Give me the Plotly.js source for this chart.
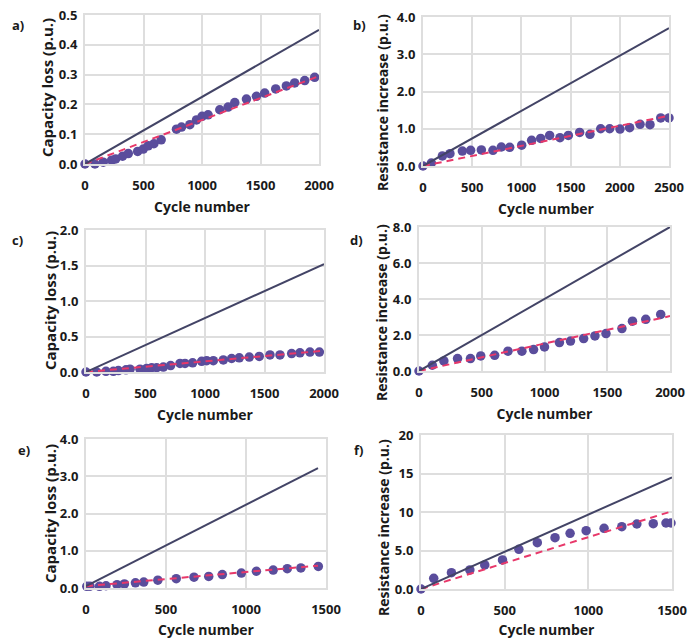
<!DOCTYPE html>
<html>
<head>
<meta charset="utf-8">
<script src="https://cdn.plot.ly/plotly-3.0.1.min.js"></script>
<style>
  html, body { margin: 0; padding: 0; background: #fff; }
  #chart { width: 688px; height: 639px; }
</style>
</head>
<body>
<div id="chart"></div>
<script>
// Measured ageing points per cell (cycle number, value in p.u.)
const aCycles = [0, 85, 156, 228, 262, 321, 370, 450, 498, 540, 589, 651, 782, 825, 896, 953, 1001, 1052, 1152, 1223, 1280, 1380, 1465, 1536, 1630, 1721, 1792, 1878, 1963];
const aValues = [0, 0.0, 0.006, 0.013, 0.017, 0.026, 0.035, 0.042, 0.05, 0.061, 0.068, 0.081, 0.117, 0.124, 0.132, 0.148, 0.16, 0.165, 0.182, 0.191, 0.206, 0.218, 0.227, 0.238, 0.252, 0.262, 0.272, 0.28, 0.291];

const bCycles = [0, 85, 197, 274, 400, 484, 593, 711, 796, 881, 1003, 1104, 1196, 1287, 1392, 1477, 1592, 1697, 1806, 1897, 2002, 2100, 2206, 2307, 2416, 2500];
const bValues = [0, 0.08, 0.27, 0.33, 0.40, 0.42, 0.43, 0.42, 0.51, 0.50, 0.56, 0.69, 0.74, 0.82, 0.76, 0.82, 0.90, 0.85, 1.0, 1.0, 0.99, 1.03, 1.12, 1.11, 1.29, 1.29];

const cCycles = [0, 90, 168, 230, 272, 336, 370, 454, 510, 552, 594, 650, 711, 790, 832, 896, 972, 1014, 1070, 1154, 1224, 1288, 1372, 1456, 1546, 1630, 1728, 1798, 1882, 1961];
const cValues = [0, 0, 0.01, 0.01, 0.02, 0.03, 0.04, 0.04, 0.05, 0.06, 0.06, 0.07, 0.09, 0.12, 0.12, 0.13, 0.15, 0.16, 0.16, 0.17, 0.19, 0.2, 0.21, 0.22, 0.24, 0.24, 0.26, 0.27, 0.28, 0.28];

const dCycles = [0, 106, 198, 307, 410, 492, 603, 709, 820, 913, 1000, 1119, 1207, 1312, 1402, 1490, 1617, 1701, 1807, 1926];
const dValues = [0, 0.32, 0.56, 0.69, 0.69, 0.84, 0.87, 1.1, 1.1, 1.19, 1.34, 1.58, 1.66, 1.8, 1.95, 2.08, 2.36, 2.77, 2.87, 3.14];

const eCycles = [5, 25, 84, 125, 194, 240, 309, 361, 449, 564, 675, 767, 852, 971, 1065, 1170, 1258, 1343, 1452];
const eValues = [0.045, 0.05, 0.045, 0.06, 0.09, 0.11, 0.14, 0.16, 0.21, 0.25, 0.29, 0.31, 0.36, 0.40, 0.45, 0.48, 0.52, 0.54, 0.58];

const fCycles = [0, 76, 182, 292, 381, 487, 585, 695, 801, 891, 987, 1094, 1200, 1290, 1388, 1464, 1494];
const fValues = [0, 1.39, 2.12, 2.47, 3.12, 3.77, 5.15, 6.02, 6.67, 7.23, 7.58, 7.88, 8.1, 8.44, 8.49, 8.57, 8.57];

// Linear model lines: [start cycle, end cycle], [start value, end value]
const aSolidX = [0, 2000], aSolidY = [0, 0.45], aDashX = [0, 2000], aDashY = [0, 0.295];
const bSolidX = [0, 2500], bSolidY = [0, 3.7],  bDashX = [0, 2500], bDashY = [0, 1.35];
const cSolidX = [0, 2000], cSolidY = [0, 1.52], cDashX = [0, 2000], cDashY = [0, 0.30];
const dSolidX = [0, 2000], dSolidY = [0, 8.0],  dDashX = [0, 2000], dDashY = [0, 3.05];
const eSolidX = [0, 1450], eSolidY = [0.05, 3.22], eDashX = [0, 1450], eDashY = [0.05, 0.6];
const fSolidX = [0, 1500], fSolidY = [0, 14.5], fDashX = [0, 1500], fDashY = [0, 10.1];

// Axis ticks
const xTicks2000 = [0, 500, 1000, 1500, 2000];
const xTicks2500 = [0, 500, 1000, 1500, 2000, 2500];
const xTicks1500 = [0, 500, 1000, 1500];
const aYTicks = [0, 0.1, 0.2, 0.3, 0.4, 0.5], aYText = ["0.0", "0.1", "0.2", "0.3", "0.4", "0.5"];
const bYTicks = [0, 1, 2, 3, 4], bYText = ["0.0", "1.0", "2.0", "3.0", "4.0"];
const cYTicks = [0, 0.5, 1, 1.5, 2], cYText = ["0.0", "0.5", "1.0", "1.5", "2.0"];
const dYTicks = [0, 2, 4, 6, 8], dYText = ["0.0", "2.0", "4.0", "6.0", "8.0"];
const eYTicks = [0, 1, 2, 3, 4], eYText = ["0.0", "1.0", "2.0", "3.0", "4.0"];
const fYTicks = [0, 5, 10, 15, 20], fYText = ["0.0", "5.0", "10", "15", "20"];

const panelLabels = ["a)", "b)", "c)", "d)", "e)", "f)"];
const capTitle = "Capacity loss (p.u.)";
const resTitle = "Resistance increase (p.u.)";
const xTitle = "Cycle number";

const W = 688, H = 639;
const DOT = "#5a4d9c", DASH = "#e8386a", SOLID = "#434466", GRID = "#dedede", TXT = "#1a1a1a";
const FONT = "Open Sans, Noto Sans, sans-serif";

// Plot boxes in pixels: [left, right, top, bottom]; y-title centre [x, y]; panel letter centre [x, y]
const panels = [
  {box: [85, 319, 15, 164],    xr: [0, 2000], xt: xTicks2000, yr: [0, 0.5], yt: aYTicks, ytx: aYText, yTitle: capTitle, yTitleSize: 15, yTitlePos: [47, 88],
   cx: aCycles, cy: aValues, sx: aSolidX, sy: aSolidY, dx: aDashX, dy: aDashY, lab: [18, 25]},
  {box: [423, 669, 17, 166],   xr: [0, 2500], xt: xTicks2500, yr: [0, 4], yt: bYTicks, ytx: bYText, yTitle: resTitle, yTitleSize: 14, yTitlePos: [382, 103],
   cx: bCycles, cy: bValues, sx: bSolidX, sy: bSolidY, dx: bDashX, dy: bDashY, lab: [359, 25]},
  {box: [86, 324, 230, 372],   xr: [0, 2000], xt: xTicks2000, yr: [0, 2], yt: cYTicks, ytx: cYText, yTitle: capTitle, yTitleSize: 15, yTitlePos: [50, 301],
   cx: cCycles, cy: cValues, sx: cSolidX, sy: cSolidY, dx: cDashX, dy: cDashY, lab: [17, 240]},
  {box: [419, 670, 227, 371],  xr: [0, 2000], xt: xTicks2000, yr: [0, 8], yt: dYTicks, ytx: dYText, yTitle: resTitle, yTitleSize: 14, yTitlePos: [381, 313],
   cx: dCycles, cy: dValues, sx: dSolidX, sy: dSolidY, dx: dDashX, dy: dDashY, lab: [356, 240]},
  {box: [86, 326, 439, 588],   xr: [0, 1500], xt: xTicks1500, yr: [0, 4], yt: eYTicks, ytx: eYText, yTitle: capTitle, yTitleSize: 15, yTitlePos: [50, 514],
   cx: eCycles, cy: eValues, sx: eSolidX, sy: eSolidY, dx: eDashX, dy: eDashY, lab: [24, 450]},
  {box: [421, 672, 435, 589],  xr: [0, 1500], xt: xTicks1500, yr: [0, 20], yt: fYTicks, ytx: fYText, yTitle: resTitle, yTitleSize: 14, yTitlePos: [383, 528],
   cx: fCycles, cy: fValues, sx: fSolidX, sy: fSolidY, dx: fDashX, dy: fDashY, lab: [358, 450]}
];

const traces = [];
const layout = {
  width: W, height: H,
  margin: {l: 0, r: 0, t: 0, b: 0},
  paper_bgcolor: "#fff", plot_bgcolor: "#fff",
  showlegend: false,
  font: {family: FONT, color: TXT},
  annotations: []
};

panels.forEach((p, i) => {
  const n = i === 0 ? "" : String(i + 1);
  const xa = "x" + n, ya = "y" + n;
  const [l, r, t, b] = p.box;

  layout["xaxis" + n] = {
    domain: [l / W, r / W], anchor: ya, range: p.xr,
    tickvals: p.xt, showgrid: true, gridcolor: GRID, gridwidth: 2,
    showline: true, linecolor: GRID, linewidth: 2, mirror: true, zeroline: false,
    ticks: "outside", ticklen: 8, tickcolor: "rgba(0,0,0,0)",
    tickfont: {family: FONT, size: 13, color: TXT, weight: "bold"},
    title: {text: xTitle, standoff: 10, font: {family: FONT, size: 14, color: TXT, weight: "bold"}},
    automargin: false, fixedrange: true
  };
  layout["yaxis" + n] = {
    domain: [1 - b / H, 1 - t / H], anchor: xa, range: p.yr,
    tickvals: p.yt, ticktext: p.ytx, showgrid: true, gridcolor: GRID, gridwidth: 2,
    showline: true, linecolor: GRID, linewidth: 2, mirror: true, zeroline: false,
    ticks: "outside", ticklen: 3, tickcolor: "rgba(0,0,0,0)",
    tickfont: {family: FONT, size: 13, color: TXT, weight: "bold"},
    automargin: false, fixedrange: true
  };

  traces.push({
    x: p.cx, y: p.cy, xaxis: xa, yaxis: ya, type: "scatter", mode: "markers",
    marker: {color: DOT, size: 9.5, line: {width: 0}}, cliponaxis: false, hoverinfo: "skip"
  });
  traces.push({
    x: p.dx, y: p.dy, xaxis: xa, yaxis: ya, type: "scatter", mode: "lines",
    line: {color: DASH, width: 2, dash: "7px,5px"}, cliponaxis: false, hoverinfo: "skip"
  });
  traces.push({
    x: p.sx, y: p.sy, xaxis: xa, yaxis: ya, type: "scatter", mode: "lines",
    line: {color: SOLID, width: 2}, cliponaxis: false, hoverinfo: "skip"
  });

  // Rotated y-axis title
  layout.annotations.push({
    text: p.yTitle, textangle: -90, xref: "paper", yref: "paper",
    x: p.yTitlePos[0] / W, y: 1 - p.yTitlePos[1] / H, xanchor: "center", yanchor: "middle",
    showarrow: false, font: {family: FONT, size: p.yTitleSize, color: TXT, weight: "bold"}
  });
  // Panel letter
  layout.annotations.push({
    text: panelLabels[i], xref: "paper", yref: "paper",
    x: p.lab[0] / W, y: 1 - p.lab[1] / H, xanchor: "center", yanchor: "middle",
    showarrow: false, font: {family: FONT, size: 13, color: TXT, weight: "bold"}
  });
});

Plotly.newPlot("chart", traces, layout, {displayModeBar: false, staticPlot: true});
</script>
</body>
</html>
